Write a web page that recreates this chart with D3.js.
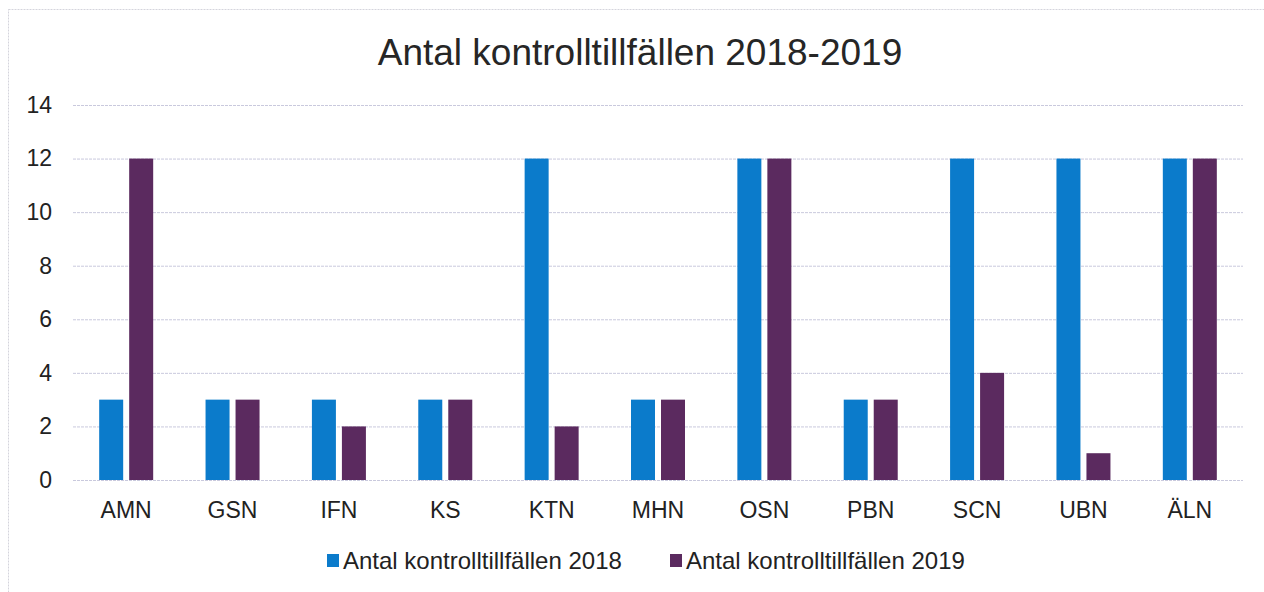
<!DOCTYPE html>
<html><head><meta charset="utf-8">
<script src="https://cdn.jsdelivr.net/npm/d3@7"></script>
<style>body{margin:0;background:#fff;font-family:"Liberation Sans",Arial,sans-serif;}</style>
</head><body><svg id="c" width="1264" height="592"></svg>
<script>
const categories = ["AMN","GSN","IFN","KS","KTN","MHN","OSN","PBN","SCN","UBN","ÄLN"];
const values2018 = [3,3,3,3,12,3,12,3,12,12,12];
const values2019 = [12,3,2,3,2,3,12,3,4,1,12];
const seriesNames = ["Antal kontrolltillfällen 2018","Antal kontrolltillfällen 2019"];
const yTicks = [0,2,4,6,8,10,12,14];
const colors = ["#0b7bcb","#5b2a5f"];
const FONT = "Liberation Sans, Arial, sans-serif";

const svg = d3.select("#c");
svg.append("rect").attr("x",8.5).attr("y",9.5).attr("width",1262).attr("height",600)
  .attr("fill","none").attr("stroke","#d4d4dc").attr("stroke-dasharray","2,1");

const x = d3.scaleBand().domain(categories).range([73,1243]);
const y = d3.scaleLinear().domain([0,14]).range([480,105]);

svg.append("text").attr("x",640).attr("y",65).attr("text-anchor","middle")
  .attr("font-size",37).attr("fill","#262626").text("Antal kontrolltillfällen 2018-2019");

const grid = svg.append("g");
yTicks.forEach(t=>{
  grid.append("line").attr("x1",73).attr("x2",1243).attr("y1",y(t)+0.5).attr("y2",y(t)+0.5)
    .attr("stroke","#c9c9dd").attr("stroke-width",1).attr("stroke-dasharray","3,1");
});
const yAxis = svg.append("g").attr("transform","translate(73,0)")
  .call(d3.axisLeft(y).tickValues(yTicks).tickSize(0).tickPadding(21));
yAxis.select(".domain").remove();
yAxis.selectAll("text").attr("font-size",23).attr("fill","#222").attr("font-family",FONT);

const xAxis = svg.append("g").attr("transform","translate(0,480)")
  .call(d3.axisBottom(x).tickSize(0).tickPadding(0));
xAxis.select(".domain").remove();
xAxis.selectAll("text").attr("font-size",23).attr("fill","#222").attr("font-family",FONT)
  .attr("dy",null).attr("y",38);

const bw = 24, gap = 6;
const data = categories.map((c,i)=>({c, v:[values2018[i],values2019[i]]}));
[0,1].forEach(s=>{
  svg.append("g").selectAll("rect").data(data).join("rect")
    .attr("x",d=>x(d.c)+x.bandwidth()/2 + (s===0 ? -gap/2-bw : gap/2))
    .attr("y",d=>y(d.v[s])).attr("width",bw).attr("height",d=>y(0)-y(d.v[s]))
    .attr("fill",colors[s]);
});

const leg = svg.append("g");
const lx = [327, 670];
seriesNames.forEach((n,i)=>{
  leg.append("rect").attr("x",lx[i]).attr("y",554).attr("width",12).attr("height",13).attr("fill",colors[i]);
  leg.append("text").attr("x",lx[i]+16).attr("y",569).attr("font-size",24).attr("fill","#222").text(n);
});
</script></body></html>
